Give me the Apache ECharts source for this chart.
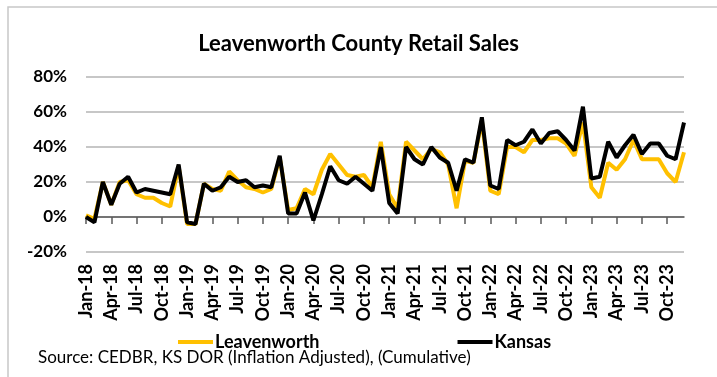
<!DOCTYPE html>
<html>
<head>
<meta charset="utf-8">
<script src="https://cdn.jsdelivr.net/npm/echarts@6/dist/echarts.min.js"></script>
<style>
html,body{margin:0;padding:0;background:#fff;}
#chart{width:717px;height:377px;}
</style>
</head>
<body>
<div id="chart"></div>
<script>
const categories = [
  'Jan-18','Feb-18','Mar-18','Apr-18','May-18','Jun-18','Jul-18','Aug-18','Sep-18','Oct-18','Nov-18','Dec-18',
  'Jan-19','Feb-19','Mar-19','Apr-19','May-19','Jun-19','Jul-19','Aug-19','Sep-19','Oct-19','Nov-19','Dec-19',
  'Jan-20','Feb-20','Mar-20','Apr-20','May-20','Jun-20','Jul-20','Aug-20','Sep-20','Oct-20','Nov-20','Dec-20',
  'Jan-21','Feb-21','Mar-21','Apr-21','May-21','Jun-21','Jul-21','Aug-21','Sep-21','Oct-21','Nov-21','Dec-21',
  'Jan-22','Feb-22','Mar-22','Apr-22','May-22','Jun-22','Jul-22','Aug-22','Sep-22','Oct-22','Nov-22','Dec-22',
  'Jan-23','Feb-23','Mar-23','Apr-23','May-23','Jun-23','Jul-23','Aug-23','Sep-23','Oct-23','Nov-23','Dec-23'
];
const leavenworth = [
  1,-1,20,7,20,21,13,11,11,8,6,29,
  -4,-4,19,16,15,26,21,17,16,14,16,34,
  4,5,16,13,27,36,30,24,23,24,17,43,
  13,5,43,38,33,39,37,30,5,32,31,55,
  15,13,40,40,37,44,44,45,45,42,35,54,
  17,11,31,27,33,44,33,33,33,25,20,37
];
const kansas = [
  0,-3,20,7,19,23,14,16,15,14,13,30,
  -3,-4,19,15,17,23,20,21,17,18,17,35,
  2,2,14,-2,13,29,21,19,23,19,15,40,
  8,2,40,33,30,40,34,31,15,33,31,57,
  18,16,44,41,43,50,42,48,49,44,38,63,
  22,23,43,34,41,47,36,42,42,35,33,54
];
const titleText = 'Leavenworth County Retail Sales';
const sourceText = 'Source: CEDBR, KS DOR (Inflation Adjusted), (Cumulative)';
const yMin = -20, yMax = 80, yStep = 20;

const FONT = 'Lato, "Open Sans", sans-serif';
const chart = echarts.init(document.getElementById('chart'));
chart.setOption({
  animation: false,
  backgroundColor: '#ffffff',
  title: {
    text: titleText,
    left: 'center',
    top: 28,
    textStyle: {fontFamily: FONT, fontSize: 22, fontWeight: 'bold', color: '#000'}
  },
  graphic: [
    {type: 'rect', shape: {x: 8, y: 7, width: 740, height: 400}, style: {fill: 'none', stroke: '#c8c8c8', lineWidth: 1.5}, silent: true},
    {type: 'text', left: 38, top: 349, style: {text: sourceText, fontFamily: FONT, fontSize: 17, fill: '#000'}}
  ],
  legend: {
    left: 173,
    top: 328,
    itemGap: 138,
    itemWidth: 35,
    itemHeight: 4,
    icon: 'rect',
    textStyle: {fontFamily: FONT, fontSize: 18, fontWeight: 'bold', color: '#000', padding: [0,0,0,-3]},
    data: ['Leavenworth', 'Kansas']
  },
  grid: {left: 86, right: 33, top: 77, bottom: 125},
  xAxis: [
    {
      type: 'category',
      data: categories,
      boundaryGap: false,
      position: 'bottom',
      axisLine: {show: false, onZero: false},
      axisTick: {show: false},
      axisLabel: {interval: 2, rotate: 90, margin: 12, fontFamily: FONT, fontSize: 18, fontWeight: 'bold', color: '#000'}
    },
    {
      type: 'category',
      data: categories,
      boundaryGap: false,
      position: 'top',
      axisLine: {show: true, onZero: true, lineStyle: {color: '#595959', width: 1.5}},
      axisTick: {show: true, inside: true, interval: 2, length: 7, lineStyle: {color: '#595959', width: 1.5}},
      axisLabel: {show: false}
    }
  ],
  yAxis: {
    type: 'value',
    min: yMin, max: yMax, interval: yStep,
    axisLine: {show: false},
    axisTick: {show: false},
    splitLine: {show: true, lineStyle: {color: '#b5b5b5', width: 1.5}},
    axisLabel: {formatter: '{value}%', margin: 19, fontFamily: FONT, fontSize: 17, fontWeight: 'bold', color: '#000'}
  },
  series: [
    {
      name: 'Leavenworth', type: 'line', data: leavenworth, xAxisIndex: 0,
      showSymbol: false, symbol: 'none',
      lineStyle: {color: '#FFC000', width: 4}, itemStyle: {color: '#FFC000'}
    },
    {
      name: 'Kansas', type: 'line', data: kansas, xAxisIndex: 0,
      showSymbol: false, symbol: 'none',
      lineStyle: {color: '#000000', width: 4}, itemStyle: {color: '#000000'}
    }
  ]
});
</script>
</body>
</html>
